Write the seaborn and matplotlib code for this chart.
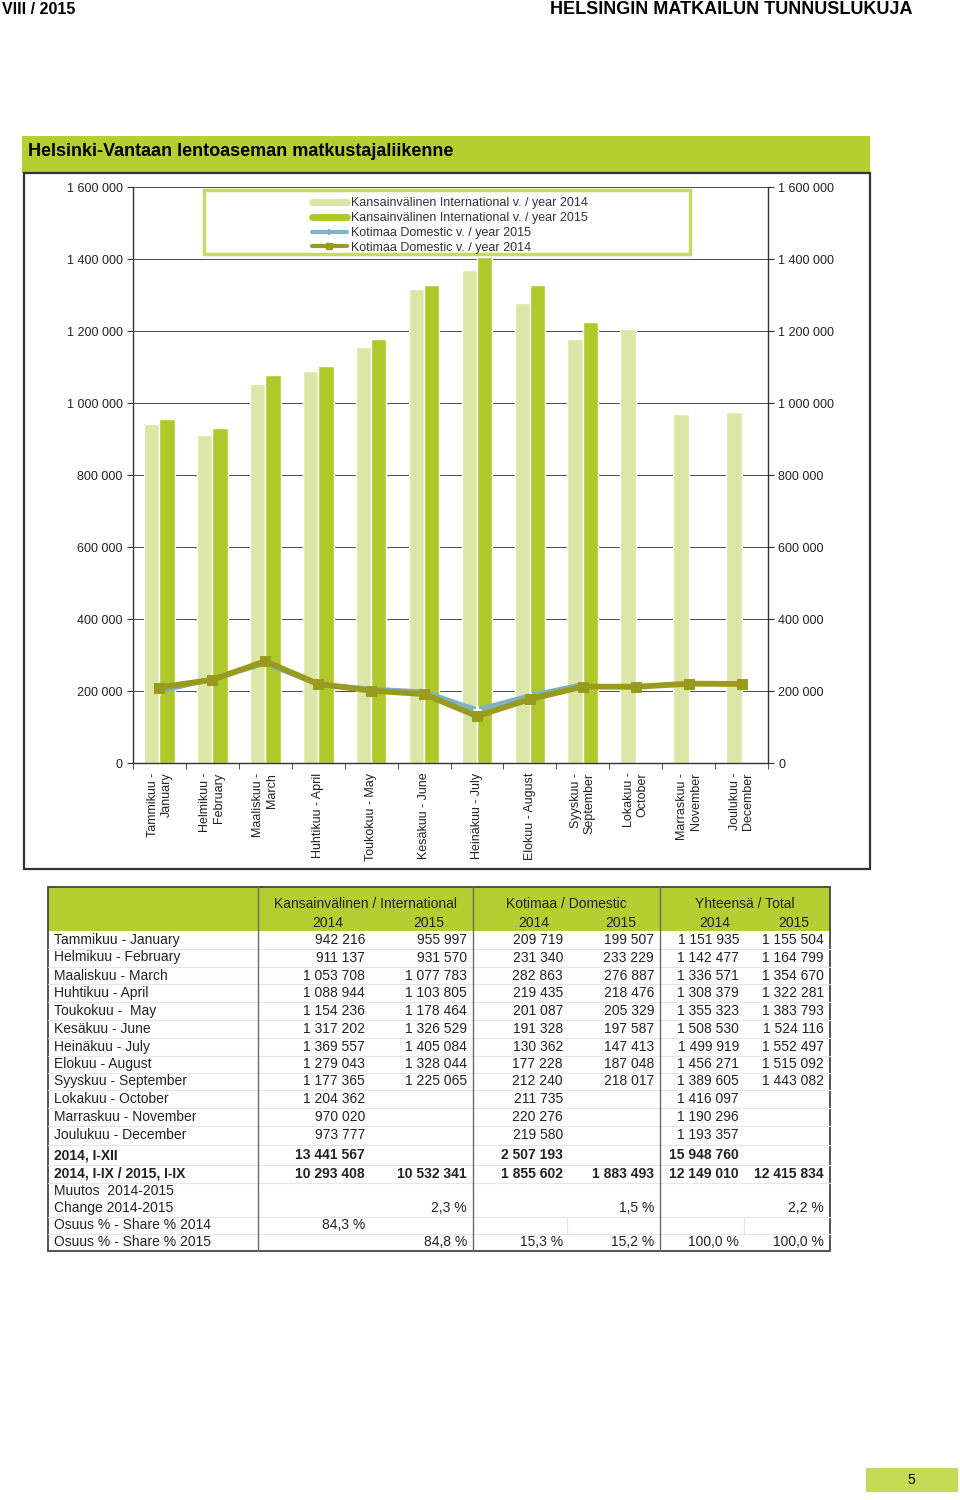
import numpy as np
import pandas as pd
import matplotlib
matplotlib.use('Agg')
import matplotlib.pyplot as plt
from matplotlib.patches import Rectangle
from matplotlib.lines import Line2D
import seaborn as sns

sns.set_style('white')
plt.rcParams['font.family'] = ['Liberation Sans', 'DejaVu Sans']
NARROW = ['Liberation Sans Narrow', 'Liberation Sans', 'DejaVu Sans']

# data
kk_axis = ['Tammikuu -\nJanuary', 'Helmikuu -\nFebruary', 'Maaliskuu -\nMarch', 'Huhtikuu - April',
           'Toukokuu - May', 'Kesäkuu - June', 'Heinäkuu - July', 'Elokuu - August',
           'Syyskuu -\nSeptember', 'Lokakuu -\nOctober', 'Marraskuu -\nNovember', 'Joulukuu -\nDecember']
kk_table = ['Tammikuu - January', 'Helmikuu - February', 'Maaliskuu - March', 'Huhtikuu - April',
            'Toukokuu -  May', 'Kesäkuu - June', 'Heinäkuu - July', 'Elokuu - August',
            'Syyskuu - September', 'Lokakuu - October', 'Marraskuu - November', 'Joulukuu - December']
int_2014 = [942216, 911137, 1053708, 1088944, 1154236, 1317202, 1369557, 1279043, 1177365, 1204362, 970020, 973777]
int_2015 = [955997, 931570, 1077783, 1103805, 1178464, 1326529, 1405084, 1328044, 1225065]
dom_2014 = [209719, 231340, 282863, 219435, 201087, 191328, 130362, 177228, 212240, 211735, 220276, 219580]
dom_2015 = [199507, 233229, 276887, 218476, 205329, 197587, 147413, 187048, 218017]
change_txt = ['2,3 %', '1,5 %', '2,2 %']
share_2014_txt = ['84,3 %']
share_2015_txt = ['84,8 %', '15,3 %', '15,2 %', '100,0 %', '100,0 %']

tot_2014 = [a + b for a, b in zip(int_2014, dom_2014)]
tot_2015 = [a + b for a, b in zip(int_2015, dom_2015)]

LIGHT = '#dce6a6'
DARK = '#afc92b'
BLUE = '#7cb3c6'
OLIVE = '#9a9a1c'
GREEN = '#b5cf32'
TXT = '#222222'

def fmt(v):
    return f'{int(v):,}'.replace(',', ' ')

fig = plt.figure(figsize=(9.6, 15), dpi=100)

# page overlay in pixel coordinates
pg = fig.add_axes([0, 0, 1, 1])
pg.set_xlim(0, 960)
pg.set_ylim(1500, 0)
pg.axis('off')
pg.patch.set_visible(False)

pg.text(2, 9, 'VIII / 2015', family=NARROW, weight='bold', fontsize=11.5, va='center', ha='left', color='black')
pg.text(912, 9, 'HELSINGIN MATKAILUN TUNNUSLUKUJA', family=NARROW, weight='bold', fontsize=13,
        va='center', ha='right', color='black')
pg.add_patch(Rectangle((22, 136), 848, 37, facecolor=GREEN, edgecolor='none'))
pg.text(28, 152, 'Helsinki-Vantaan lentoaseman matkustajaliikenne', family=NARROW, weight='bold',
        fontsize=13, va='center', ha='left', color='black')
pg.add_patch(Rectangle((24, 173), 846, 696, facecolor='none', edgecolor='#333333', lw=1.6))

# chart
ax = fig.add_axes([133 / 960, 1 - 763 / 1500, 635 / 960, 576 / 1500])
bars = pd.DataFrame({
    'kk': kk_axis + kk_axis[:len(int_2015)],
    'vuosi': ['2014'] * len(int_2014) + ['2015'] * len(int_2015),
    'matkustajat': int_2014 + int_2015,
})
sns.barplot(data=bars, x='kk', y='matkustajat', hue='vuosi', order=kk_axis, hue_order=['2014', '2015'],
            palette=[LIGHT, DARK], saturation=1, width=0.58, gap=0, legend=False, ax=ax, zorder=2)
sns.lineplot(x=np.arange(len(dom_2015)), y=dom_2015, color=BLUE, lw=3.5, marker='+', markersize=6,
             markeredgewidth=2, ax=ax, zorder=3)
sns.lineplot(x=np.arange(len(dom_2014)), y=dom_2014, color=OLIVE, lw=4.2, marker='s', markersize=7.5,
             markeredgecolor=OLIVE, ax=ax, zorder=4)

ax.set_xlim(-0.5, len(kk_axis) - 0.5)
ax.set_ylim(0, 1600000)
ax.set_yticks(range(0, 1600001, 200000))
ax.yaxis.set_major_formatter(plt.FuncFormatter(lambda v, p: fmt(v)))
ax.set_xticks(range(len(kk_axis)))
ax.set_xticklabels(kk_axis, rotation=90, va='top', ha='center', multialignment='right', fontsize=9, color=TXT)
ax.set_xticks(np.arange(-0.5, len(kk_axis), 1), minor=True)
ax.tick_params(axis='x', which='major', length=0, pad=7)
ax.tick_params(axis='x', which='minor', length=4, direction='out', color='#333333', bottom=True)
ax.tick_params(axis='y', length=4, direction='out', left=True, right=True, labelleft=True, labelright=True,
               labelsize=9, labelcolor=TXT, color='#333333', pad=3.5)
ax.set_xlabel('')
ax.set_ylabel('')
ax.set_axisbelow(True)
ax.yaxis.grid(True, color='#4a4a4a', lw=0.7)
ax.xaxis.grid(False)
for s in ['left', 'right', 'bottom']:
    ax.spines[s].set_color('#333333')
    ax.spines[s].set_linewidth(1.0)
ax.spines['top'].set_visible(False)

# legend
ax.add_patch(Rectangle((0.112, 0.884), 0.765, 0.11, transform=ax.transAxes, facecolor='white',
                       edgecolor='#c6da66', lw=2.5, zorder=5))
handles = [Line2D([0], [0], color=LIGHT, lw=5),
           Line2D([0], [0], color=DARK, lw=5),
           Line2D([0], [0], color=BLUE, lw=3, marker='+', markersize=5, markeredgewidth=1.5),
           Line2D([0], [0], color=OLIVE, lw=3, marker='s', markersize=4)]
labels = ['Kansainvälinen International v. / year 2014', 'Kansainvälinen International v. / year 2015',
          'Kotimaa Domestic v. / year 2015', 'Kotimaa Domestic v. / year 2014']
leg = ax.legend(handles, labels, loc='upper left', bbox_to_anchor=(0.268, 0.997), frameon=False,
                fontsize=9, labelspacing=0.22, handlelength=2.8, handletextpad=0.3, borderpad=0.2)
leg.set_zorder(6)
for t in leg.get_texts():
    t.set_color('#333333')

# table
L, R, TOP, BOT = 48, 830, 887, 1251
pg.add_patch(Rectangle((L, TOP), R - L, 931 - TOP, facecolor=GREEN, edgecolor='none'))
cols_r = [365, 467, 563, 654, 739, 824]
row_y = [940, 957.5, 975.5, 993, 1011, 1029, 1047, 1064, 1081, 1099, 1117, 1135]
groups = [('Kansainvälinen / International', 365, 328, 429),
          ('Kotimaa / Domestic', 566, 534, 621),
          ('Yhteensä / Total', 745, 715, 794)]
for name, cx, c14, c15 in groups:
    pg.text(cx, 904, name, ha='center', va='center', fontsize=10, color=TXT)
    pg.text(c14, 923, '2014', ha='center', va='center', fontsize=10, color=TXT)
    pg.text(c15, 923, '2015', ha='center', va='center', fontsize=10, color=TXT)

series = [int_2014, int_2015, dom_2014, dom_2015, tot_2014, tot_2015]
for i, name in enumerate(kk_table):
    y = row_y[i]
    pg.text(54, y, name, ha='left', va='center', fontsize=10, color=TXT)
    for xr, s in zip(cols_r, series):
        if i < len(s):
            pg.text(xr, y, fmt(s[i]), ha='right', va='center', fontsize=10, color=TXT)

sum_rows = [(1155, '2014, I-XII', [sum(int_2014), None, sum(dom_2014), None, sum(tot_2014), None]),
            (1174, '2014, I-IX / 2015, I-IX', [sum(int_2014[:9]), sum(int_2015), sum(dom_2014[:9]),
                                               sum(dom_2015), sum(tot_2014[:9]), sum(tot_2015)])]
for y, name, vals in sum_rows:
    pg.text(54, y, name, ha='left', va='center', fontsize=10, weight='bold', color=TXT)
    for xr, v in zip(cols_r, vals):
        if v is not None:
            pg.text(xr, y, fmt(v), ha='right', va='center', fontsize=10, weight='bold', color=TXT)

pg.text(54, 1191, 'Muutos  2014-2015', ha='left', va='center', fontsize=10, color=TXT)
pg.text(54, 1208, 'Change 2014-2015', ha='left', va='center', fontsize=10, color=TXT)
for xr, t in zip([cols_r[1], cols_r[3], cols_r[5]], change_txt):
    pg.text(xr, 1208, t, ha='right', va='center', fontsize=10, color=TXT)
pg.text(54, 1225, 'Osuus % - Share % 2014', ha='left', va='center', fontsize=10, color=TXT)
pg.text(cols_r[0], 1225, share_2014_txt[0], ha='right', va='center', fontsize=10, color=TXT)
pg.text(54, 1242, 'Osuus % - Share % 2015', ha='left', va='center', fontsize=10, color=TXT)
for xr, t in zip(cols_r[1:], share_2015_txt):
    pg.text(xr, 1242, t, ha='right', va='center', fontsize=10, color=TXT)

# row separators
seps = [(a + b) / 2 for a, b in zip(row_y[:-1], row_y[1:])] + [1145, 1165, 1183, 1216.5, 1233.5]
for y in seps:
    pg.plot([L, R], [y, y], color='#e6e6e6', lw=0.8)
for x in [567, 744]:
    pg.plot([x, x], [1216.5, 1233.5], color='#e6e6e6', lw=0.8)
for x in [258, 473, 660]:
    pg.plot([x, x], [TOP, BOT], color='#6a6a6a', lw=1.0)
pg.add_patch(Rectangle((L, TOP), R - L, BOT - TOP, facecolor='none', edgecolor='#444444', lw=1.3))

# page number
pg.add_patch(Rectangle((866, 1468), 92, 24, facecolor='#c5da55', edgecolor='none'))
pg.text(911, 1480, '5', ha='center', va='center', fontsize=10, color='black')

fig.savefig('out.png', dpi=100)
